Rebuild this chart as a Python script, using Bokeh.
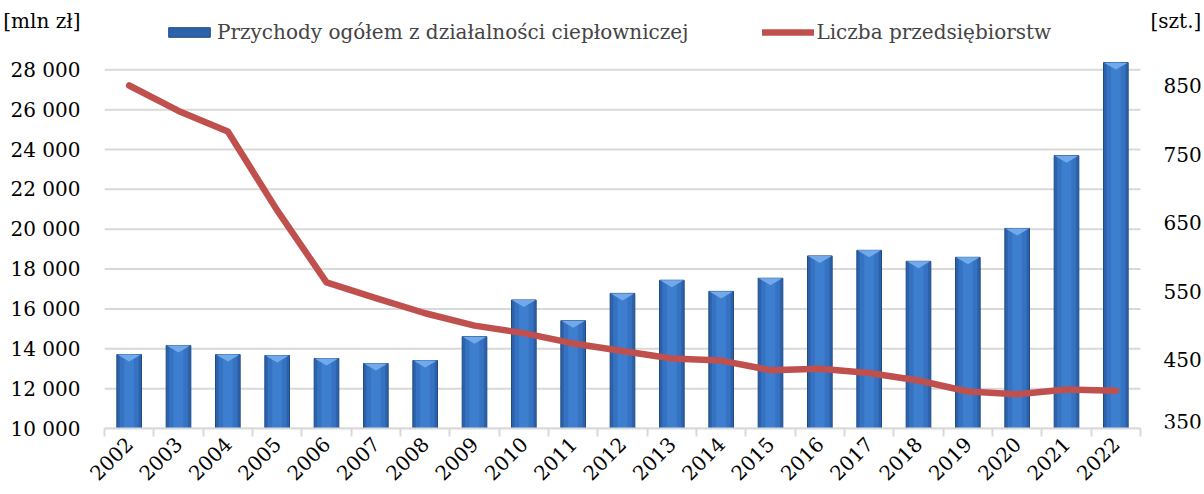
from bokeh.plotting import figure
from bokeh.models import (Range1d, FixedTicker, Legend, LegendItem, ColumnDataSource)
from bokeh.embed import file_html
from bokeh.resources import INLINE
from bokeh.core.properties import value
import math

years = ["2002", "2003", "2004", "2005", "2006", "2007", "2008", "2009", "2010",
         "2011", "2012", "2013", "2014", "2015", "2016", "2017", "2018", "2019",
         "2020", "2021", "2022"]
revenue = [13710, 14160, 13710, 13660, 13510, 13260, 13410, 14610, 16450, 15410,
           16780, 17440, 16880, 17540, 18660, 18940, 18390, 18590, 20040, 23690, 28360]
companies = [850, 813, 783, 668, 563, 540, 518, 500, 489, 474, 463, 452, 449, 435,
             437, 431, 420, 404, 400, 407, 405]
left_ticks = [10000, 12000, 14000, 16000, 18000, 20000, 22000, 24000, 26000, 28000]
right_ticks = [350, 450, 550, 650, 750, 850]
series_names = ["Przychody ogółem z działalności ciepłowniczej", "Liczba przedsiębiorstw"]
unit_left = "[mln zł]"
unit_right = "[szt.]"

FONT = "DejaVu Serif"
FS = "20px"

n = len(years)
xs = list(range(n))

# layout constants (pixels)
FRAME_H = 428          # frame from canvas top down to the category axis
LEFT_BORDER = 104
PLOT_W = 1036          # width of the category area
RIGHT_PAD = 64         # room for the right-hand scale inside the frame
CAT_PX = PLOT_W / n
L_PX = 0.019928        # px per mln zł
R_PX = 0.686           # px per company
UNIT_Y_PX = 408        # height of unit labels above the category axis
EDGE_LIFT_PX = 7       # lift of the lowest right label so it is not clipped

left_top = 10000 + FRAME_H / L_PX
right_top = 350 + FRAME_H / R_PX
unit_left_v = 10000 + UNIT_Y_PX / L_PX
unit_right_v = 350 + UNIT_Y_PX / R_PX

p = figure(frame_width=PLOT_W + RIGHT_PAD, frame_height=FRAME_H, output_backend="svg",
           toolbar_location=None,
           x_range=Range1d(-0.5, n - 0.5 + RIGHT_PAD / CAT_PX),
           y_range=Range1d(10000, left_top),
           min_border_left=LEFT_BORDER, min_border_right=0, min_border_top=0,
           min_border_bottom=60)
p.outline_line_color = None
p.background_fill_color = "white"
p.extra_y_ranges = {"cnt": Range1d(350, right_top)}

# gridlines limited to the category area
p.xgrid.grid_line_color = None
p.ygrid.grid_line_color = None
p.segment(x0=[-0.5] * len(left_ticks), x1=[n - 0.5] * len(left_ticks),
          y0=left_ticks, y1=left_ticks, line_color="#D9D9D9", line_width=2)

# bars with a simple bevel look
src = ColumnDataSource(dict(x=xs, top=revenue))
bars = p.vbar(x="x", top="top", bottom=10000, width=0.5, source=src,
              fill_color="#2C62AA", line_color="#1E4A85", line_width=1)
p.vbar(x="x", top="top", bottom=10000, width=0.38, source=src,
       fill_color="#3672C2", line_color=None)
p.vbar(x="x", top="top", bottom=10000, width=0.2, source=src,
       fill_color="#3E7ECF", line_color=None)
tri_depth = 7 / L_PX
tri_xs = [[x - 0.24, x + 0.24, x] for x in xs]
tri_ys = [[t - 1, t - 1, t - tri_depth] for t in revenue]
p.patches(tri_xs, tri_ys, fill_color="#72AAE9", line_color=None)

line = p.line(xs, companies, y_range_name="cnt", line_color="#C0504D",
              line_width=6.5, line_join="round", line_cap="round")

# category axis
xa = p.xaxis[0]
xa.bounds = (-0.5, n - 0.5)
xa.ticker = FixedTicker(ticks=xs, minor_ticks=[x - 0.5 for x in xs] + [n - 0.5])
xa.major_label_overrides = {i: y for i, y in enumerate(years)}
xa.major_label_orientation = math.pi / 4
xa.major_tick_out = 0
xa.major_tick_in = 0
xa.minor_tick_out = 8
xa.minor_tick_in = 0
xa.minor_tick_line_color = "#D9D9D9"
xa.minor_tick_line_width = 2
xa.axis_line_color = "#D9D9D9"
xa.axis_line_width = 2
xa.major_label_text_font = FONT
xa.major_label_text_font_size = FS
xa.major_label_text_color = "black"
xa.major_label_standoff = 4

# left value axis (with unit caption as top label)
ya = p.yaxis[0]
ya.ticker = FixedTicker(ticks=left_ticks + [unit_left_v])
ov = {v: f"{v:,}".replace(",", " ") for v in left_ticks}
ov[unit_left_v] = unit_left
ya.major_label_overrides = ov
ya.axis_line_color = None
ya.major_tick_line_color = None
ya.minor_tick_line_color = None
ya.major_label_text_font = FONT
ya.major_label_text_font_size = FS
ya.major_label_text_color = "black"
ya.major_label_standoff = 18

# right value scale (drawn through the secondary range)
upper = right_ticks[1:]
p.text(x=[n - 0.5] * len(upper), y=upper, text=[str(v) for v in upper],
       y_range_name="cnt", x_offset=23, text_align="left", text_baseline="middle",
       text_font=value(FONT), text_font_size=FS, text_color="black")
p.text(x=[n - 0.5], y=[right_ticks[0] + EDGE_LIFT_PX / R_PX], text=[str(right_ticks[0])],
       y_range_name="cnt", x_offset=23, text_align="left", text_baseline="middle",
       text_font=value(FONT), text_font_size=FS, text_color="black")
p.text(x=[n - 0.5], y=[unit_right_v], text=[unit_right], y_range_name="cnt",
       x_offset=10, text_align="left", text_baseline="middle",
       text_font=value(FONT), text_font_size=FS, text_color="black")

legend = Legend(items=[LegendItem(label=series_names[0], renderers=[bars]),
                       LegendItem(label=series_names[1], renderers=[line])],
                orientation="horizontal", location=(59, 384),
                padding=0, margin=0, spacing=74, label_standoff=2,
                glyph_width=52, glyph_height=12,
                border_line_color=None, background_fill_alpha=0,
                label_text_font=FONT, label_text_font_size=FS)
p.add_layout(legend, "center")

open("out.html", "w").write(file_html(p, INLINE))
